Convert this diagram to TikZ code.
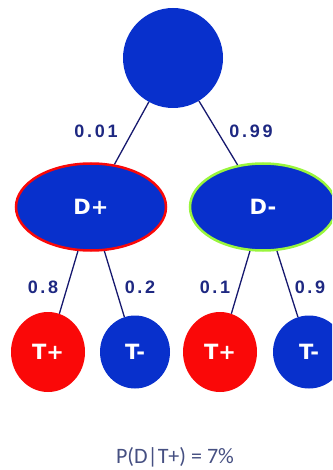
\documentclass[tikz,border=0pt]{standalone}
\usepackage{fontspec}
\setmainfont{Liberation Sans}
\newfontfamily\nodefont{DejaVu Sans}
\newfontfamily\notefont{Carlito}
\usetikzlibrary{shapes.geometric}

\definecolor{treeblue}{RGB}{8,48,204}
\definecolor{treered}{RGB}{250,8,8}
\definecolor{treegreen}{RGB}{153,245,60}
\definecolor{edgenavy}{RGB}{22,24,110}
\definecolor{probnavy}{RGB}{30,40,130}
\definecolor{notegray}{RGB}{70,80,130}

\tikzset{
  treenode/.style={ellipse, inner sep=0pt, fill=treeblue, text=white,
    font=\nodefont\fontsize{21}{21}\selectfont\bfseries},
  rootnode/.style={treenode, minimum width=100pt, minimum height=100pt},
  disease/.style={treenode, minimum width=150pt, minimum height=87pt, line width=2.5pt},
  leafpos/.style={treenode, fill=treered, minimum width=74pt, minimum height=80pt},
  leafneg/.style={treenode, minimum width=70pt, minimum height=73pt},
  branch/.style={draw=edgenavy, line width=1.3pt},
  prob/.style={text=probnavy, inner sep=0pt,
    font=\fontsize{18}{18}\selectfont\bfseries\addfontfeature{LetterSpace=15}},
  note/.style={text=notegray, inner sep=0pt, font=\notefont\fontsize{22}{22}\selectfont}
}

\begin{document}
\begin{tikzpicture}[x=1pt,y=-1pt]
  \useasboundingbox (0,0) rectangle (332,470);
  \clip (0,0) rectangle (332,470);

  % tree nodes
  \node[rootnode] (root) at (173,58) {};
  \node[disease, draw=treered] (dpos) at (91,207) {D+};
  \node[disease, draw=treegreen, minimum width=146pt] (dneg) at (263,207) {D-};
  \node[leafpos] (tpa) at (48,352) {T+};
  \node[leafneg] (tna) at (135,352) {T-};
  \node[leafpos] (tpb) at (220,352) {T+};
  \node[leafneg, minimum width=72pt] (tnb) at (309,352) {T-};

  % branches
  \draw[branch] (root) -- (dpos);
  \draw[branch] (root) -- (dneg);
  \draw[branch] (dpos) -- (tpa);
  \draw[branch] (dpos) -- (tna);
  \draw[branch] (dneg) -- (tpb);
  \draw[branch] (dneg) -- (tnb);

  % branch probabilities
  \node[prob] (p1) at (96,131) {0.01};
  \node[prob] (p2) at (251,131) {0.99};
  \node[prob] (p3) at (43,287) {0.8};
  \node[prob] (p4) at (140,287) {0.2};
  \node[prob] (p5) at (215,287) {0.1};
  \node[prob] (p6) at (310,287) {0.9};

  % result
  \node[note] (res) at (175,457) {P(D|T+) = 7\%};
\end{tikzpicture}
\end{document}
